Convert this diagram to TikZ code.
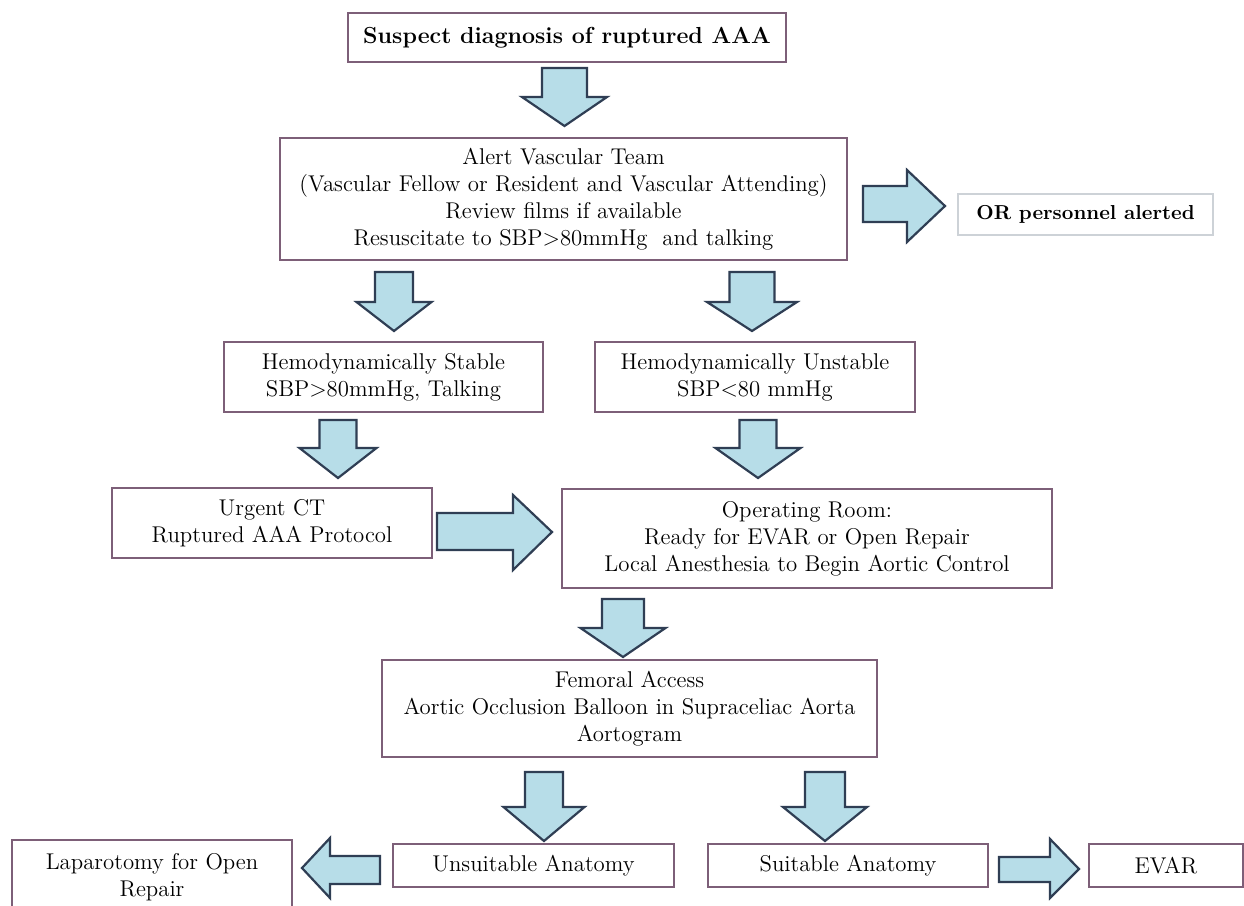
\documentclass[tikz,border=0pt]{standalone}
\usepackage{fontspec}
\definecolor{arrfill}{RGB}{183,221,232}
\definecolor{arrline}{RGB}{47,62,84}
\definecolor{boxline}{RGB}{125,95,120}
\definecolor{lightline}{RGB}{205,210,215}
\tikzset{
  box/.style={draw=boxline, line width=0.7pt, fill=white, align=center,
    font=\fontsize{11.4}{13.5}\selectfont, inner sep=0pt},
  titlebox/.style={box, font=\fontsize{11.6}{14}\selectfont\bfseries},
  notebox/.style={box, draw=lightline, line width=0.6pt, font=\fontsize{10.1}{13}\selectfont\bfseries},
  blockarrow/.style={draw=arrline, fill=arrfill, line width=1.1pt, line join=miter},
}
\newcommand\DownBlock[6]{% cx, top, shaft width, head width, head base, tip
  \draw[blockarrow] ({#1-#3/2},#2) -- ({#1+#3/2},#2) -- ({#1+#3/2},#5) -- ({#1+#4/2},#5)
    -- (#1,#6) -- ({#1-#4/2},#5) -- ({#1-#3/2},#5) -- cycle;}
\begin{document}
\begin{tikzpicture}[x=0.5pt,y=-0.5pt]
\useasboundingbox (0,0) rectangle (1244,906);
\clip (0,0) rectangle (1244,906);
\fill[white] (0,0) rectangle (1244,906);

% boxes
\node[titlebox, minimum width=219pt, minimum height=24.5pt] (suspect) at (567,37.5) {Suspect diagnosis of ruptured AAA};
\node[box, minimum width=283.5pt, minimum height=61pt] (alert) at (563.5,199)
  {Alert Vascular Team\\(Vascular Fellow or Resident and Vascular Attending)\\Review films if available\\Resuscitate to SBP>80mmHg\ \ and talking};
\node[notebox, minimum width=127.5pt, minimum height=20.5pt] (orp) at (1085.5,214.5) {OR personnel alerted};
\node[box, minimum width=159.5pt, minimum height=35pt] (stable) at (383.5,377) {Hemodynamically Stable\\SBP>80mmHg, Talking};
\node[box, minimum width=160pt, minimum height=35pt] (unstable) at (755,377) {Hemodynamically Unstable\\SBP<80 mmHg};
\node[box, minimum width=160pt, minimum height=35pt] (ct) at (272,523) {Urgent CT\\Ruptured AAA Protocol};
\node[box, minimum width=245pt, minimum height=49.5pt] (orroom) at (807,538.5)
  {Operating Room:\\Ready for EVAR or Open Repair\\Local Anesthesia to Begin Aortic Control};
\node[box, minimum width=247.5pt, minimum height=48.5pt] (femoral) at (629.5,708.5)
  {Femoral Access\\Aortic Occlusion Balloon in Supraceliac Aorta\\Aortogram};
\node[box, minimum width=140pt, minimum height=37.5pt] (lap) at (152,877.5) {Laparotomy for Open\\Repair};
\node[box, minimum width=140.5pt, minimum height=21.5pt] (unsuit) at (533.5,865.5) {Unsuitable Anatomy};
\node[box, minimum width=140pt, minimum height=21.5pt] (suit) at (848,865.5) {Suitable Anatomy};
\node[box, minimum width=77pt, minimum height=21.5pt] (evar) at (1166,865.5) {EVAR};

% down block arrows
\DownBlock{564.5}{68}{45}{85}{97}{126}
\DownBlock{394}{272}{38}{75}{302}{331}
\DownBlock{752}{272}{45}{90}{302}{331}
\DownBlock{338}{420}{37}{77}{448}{478}
\DownBlock{758}{420}{37}{85}{448}{478}
\DownBlock{623}{599}{42}{85}{628}{657}
\DownBlock{544}{772}{38}{81}{807}{841}
\DownBlock{825}{772}{40}{84}{807}{841}

% right block arrows
\draw[blockarrow] (863,186) -- (907,186) -- (907,170) -- (945,206) -- (907,242) -- (907,222) -- (863,222) -- cycle;
\draw[blockarrow] (437,513) -- (513,513) -- (513,495) -- (552,532) -- (513,570) -- (513,550) -- (437,550) -- cycle;
\draw[blockarrow] (999,857) -- (1050,857) -- (1050,839) -- (1079,869) -- (1050,898) -- (1050,882) -- (999,882) -- cycle;
% left block arrow
\draw[blockarrow] (380,856) -- (330,856) -- (330,838) -- (302,868) -- (330,898) -- (330,884) -- (380,884) -- cycle;
\end{tikzpicture}
\end{document}
